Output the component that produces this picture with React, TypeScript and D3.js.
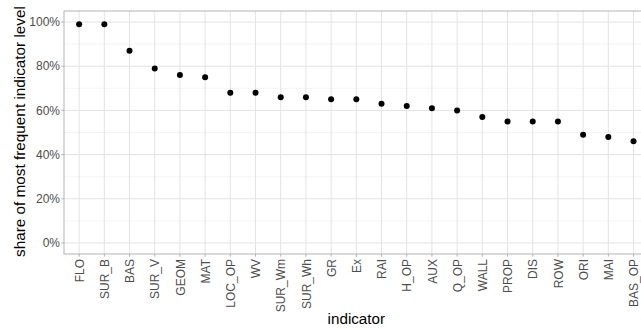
import React, { useEffect, useRef } from 'react';
import * as d3 from 'd3';

const indicators = [
  'FLO', 'SUR_B', 'BAS', 'SUR_V', 'GEOM', 'MAT', 'LOC_OP', 'WV', 'SUR_Wm', 'SUR_Wh', 'GR', 'Ex',
  'RAI', 'H_OP', 'AUX', 'Q_OP', 'WALL', 'PROP', 'DIS', 'ROW', 'ORI', 'MAI', 'BAS_OP',
];
const shares = [
  0.99, 0.99, 0.87, 0.79, 0.76, 0.75, 0.68, 0.68, 0.66, 0.66, 0.65, 0.65,
  0.63, 0.62, 0.61, 0.60, 0.57, 0.55, 0.55, 0.55, 0.49, 0.48, 0.46,
];
const yTicks = [0, 0.2, 0.4, 0.6, 0.8, 1];
const yMinor = [0.1, 0.3, 0.5, 0.7, 0.9];

const App = () => {
  const ref = useRef<SVGSVGElement>(null);

  useEffect(() => {
    const svg = d3.select(ref.current);
    svg.selectAll('*').remove();

    // panel box (right side runs past the picture, as in the original)
    const left = 64, top = 11, bottom = 254;
    const step = 25.2;
    const right = left + step * (indicators.length + 0.2);
    const font = '"Liberation Sans", Arial, sans-serif';

    const x = d3.scalePoint<string>()
      .domain(indicators)
      .range([left + 0.6 * step, right - 0.6 * step]);

    const y = d3.scaleLinear()
      .domain([-0.05, 1.05])
      .range([bottom, top]);

    const grid = svg.append('g');
    grid.selectAll('.minor')
      .data(yMinor)
      .enter().append('line')
      .attr('x1', left).attr('x2', right)
      .attr('y1', d => y(d)).attr('y2', d => y(d))
      .attr('stroke', '#ececec').attr('stroke-width', 0.6);
    grid.selectAll('.major-y')
      .data(yTicks)
      .enter().append('line')
      .attr('x1', left).attr('x2', right)
      .attr('y1', d => y(d)).attr('y2', d => y(d))
      .attr('stroke', '#e3e3e3').attr('stroke-width', 1);
    grid.selectAll('.major-x')
      .data(indicators)
      .enter().append('line')
      .attr('x1', d => x(d)!).attr('x2', d => x(d)!)
      .attr('y1', top).attr('y2', bottom)
      .attr('stroke', '#e3e3e3').attr('stroke-width', 1);

    // points
    svg.append('g').selectAll('circle')
      .data(indicators)
      .enter().append('circle')
      .attr('cx', d => x(d)!)
      .attr('cy', (d, i) => y(shares[i]))
      .attr('r', 3)
      .attr('fill', '#000');

    // panel border
    svg.append('rect')
      .attr('x', left).attr('y', top)
      .attr('width', right - left).attr('height', bottom - top)
      .attr('fill', 'none')
      .attr('stroke', '#b3b3b3').attr('stroke-width', 1);

    // y axis
    const yAxis = svg.append('g');
    yAxis.selectAll('line')
      .data(yTicks)
      .enter().append('line')
      .attr('x1', left - 2.7).attr('x2', left)
      .attr('y1', d => y(d)).attr('y2', d => y(d))
      .attr('stroke', '#b3b3b3');
    yAxis.selectAll('text')
      .data(yTicks)
      .enter().append('text')
      .attr('x', left - 4)
      .attr('y', d => y(d))
      .attr('dy', '0.35em')
      .attr('text-anchor', 'end')
      .attr('font-family', font).attr('font-size', 12)
      .attr('fill', '#4d4d4d')
      .text(d => d3.format('.0%')(d));

    // x axis
    const xAxis = svg.append('g');
    xAxis.selectAll('line')
      .data(indicators)
      .enter().append('line')
      .attr('x1', d => x(d)!).attr('x2', d => x(d)!)
      .attr('y1', bottom).attr('y2', bottom + 2.7)
      .attr('stroke', '#b3b3b3');
    xAxis.selectAll('text')
      .data(indicators)
      .enter().append('text')
      .attr('transform', d => `translate(${x(d)! + 0.5},${bottom + 5}) rotate(-90)`)
      .attr('dy', '0.35em')
      .attr('text-anchor', 'end')
      .attr('font-family', font).attr('font-size', 12)
      .attr('fill', '#4d4d4d')
      .text(d => d);

    // axis titles
    svg.append('text')
      .attr('x', (left + right) / 2)
      .attr('y', 324)
      .attr('text-anchor', 'middle')
      .attr('font-family', font).attr('font-size', 15.2)
      .attr('fill', '#000')
      .text('indicator');
    svg.append('text')
      .attr('transform', `translate(25,${(top + bottom) / 2 - 1}) rotate(-90)`)
      .attr('text-anchor', 'middle')
      .attr('font-family', font).attr('font-size', 15.3)
      .attr('fill', '#000')
      .text('share of most frequent indicator level');
  }, []);

  return (
    <svg
      ref={ref}
      width={641}
      height={329}
      style={{ display: 'block', position: 'absolute', left: 0, top: 0, background: '#fff' }}
    />
  );
};

export default App;
